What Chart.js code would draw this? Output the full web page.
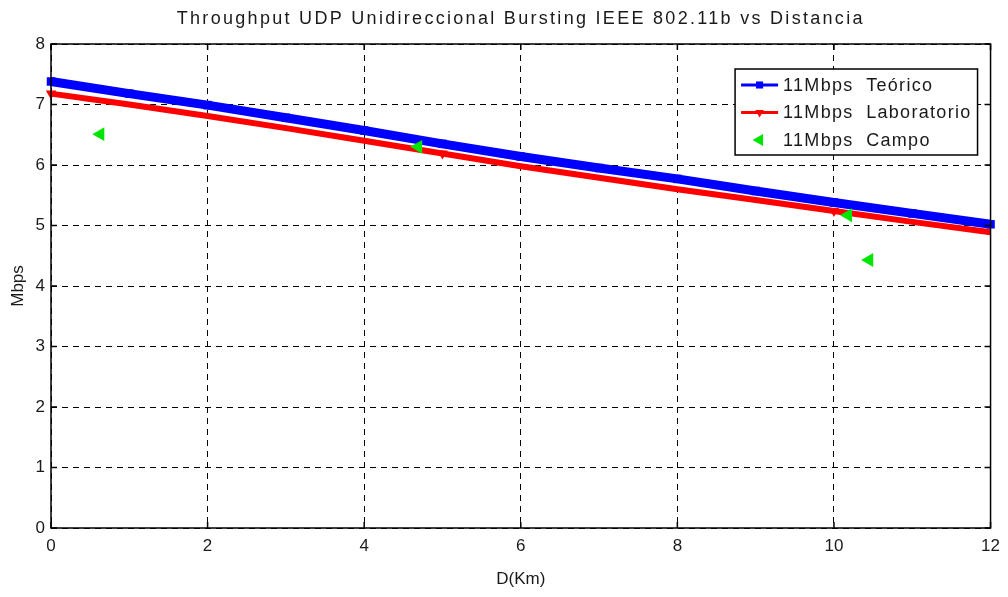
<!DOCTYPE html>
<html lang="es">
<head>
<meta charset="utf-8">
<title>Throughput UDP vs Distancia</title>
<script src="https://cdn.jsdelivr.net/npm/chart.js@4.4.1/dist/chart.umd.min.js"></script>
<style>
  html, body { margin: 0; padding: 0; background: #fff; }
  #contenedor { width: 1008px; height: 597px; }
</style>
</head>
<body>
<div id="contenedor"><canvas id="grafico"></canvas></div>
<script>
// Distancia (km) y throughput (Mbps)
const distancia   = [0, 1, 2, 3, 4, 5, 6, 7, 8, 9, 10, 11, 12];
const teorico     = [7.38, 7.18, 6.99, 6.78, 6.57, 6.35, 6.14, 5.95, 5.77, 5.57, 5.38, 5.20, 5.02];
const laboratorio = [7.18, 7.00, 6.81, 6.61, 6.40, 6.19, 5.98, 5.79, 5.60, 5.42, 5.24, 5.06, 4.89];
const marcasLab   = [0, 5, 10];   // puntos medidos en laboratorio

// Mediciones de campo
const campoDist = [0.63, 4.69, 10.18, 10.45];
const campoMbps = [6.51, 6.30, 5.17, 4.43];

const ticksX = [0, 2, 4, 6, 8, 10, 12];
const ticksY = [0, 1, 2, 3, 4, 5, 6, 7, 8];

const titulo = 'Throughput UDP Unidireccional Bursting IEEE 802.11b vs Distancia';
const fuente = '"Liberation Sans", Arial, Helvetica, sans-serif';
const colorTexto = '#1a1a1a';

// marcador simple para la leyenda
function marcador(ctx, estilo, rot, x, y, r, color) {
  ctx.save();
  ctx.fillStyle = color;
  ctx.translate(x, y);
  ctx.rotate((rot || 0) * Math.PI / 180);
  ctx.beginPath();
  if (estilo === 'rect') {
    const s = r * Math.SQRT1_2;
    ctx.rect(-s, -s, 2 * s, 2 * s);
  } else {
    ctx.moveTo(0, -r);
    ctx.lineTo(r * 0.866, r / 2);
    ctx.lineTo(-r * 0.866, r / 2);
    ctx.closePath();
  }
  ctx.fill();
  ctx.restore();
}

// Título con espaciado ancho
const tituloPlugin = {
  id: 'tituloPlugin',
  afterDraw(chart) {
    const { ctx, chartArea: a } = chart;
    ctx.save();
    ctx.font = '18px ' + fuente;
    const w0 = ctx.measureText(titulo).width;
    const esp = (688 - w0) / titulo.length;
    ctx.letterSpacing = esp + 'px';
    const w = ctx.measureText(titulo).width;
    ctx.fillStyle = colorTexto;
    ctx.textAlign = 'left';
    ctx.textBaseline = 'middle';
    ctx.fillText(titulo, (a.left + a.right) / 2 - w / 2, 19);
    ctx.restore();
  }
};

// Marco de los ejes con marcas hacia dentro
const marco = {
  id: 'marco',
  afterDatasetsDraw(chart) {
    const { ctx, chartArea: a, scales: { x, y } } = chart;
    ctx.save();
    ctx.strokeStyle = '#000';
    ctx.lineWidth = 1.5;
    ctx.setLineDash([]);
    ctx.strokeRect(a.left, a.top, a.width, a.height);
    ctx.beginPath();
    x.ticks.forEach(t => {
      const px = x.getPixelForValue(t.value);
      ctx.moveTo(px, a.bottom); ctx.lineTo(px, a.bottom - 6);
      ctx.moveTo(px, a.top); ctx.lineTo(px, a.top + 6);
    });
    y.ticks.forEach(t => {
      const py = y.getPixelForValue(t.value);
      ctx.moveTo(a.left, py); ctx.lineTo(a.left + 6, py);
      ctx.moveTo(a.right, py); ctx.lineTo(a.right - 6, py);
    });
    ctx.stroke();
    ctx.restore();
  }
};

// Leyenda con recuadro dentro del área de datos
const leyenda = {
  id: 'leyenda',
  afterDraw(chart) {
    const { ctx, chartArea: a } = chart;
    const sets = chart.data.datasets;
    ctx.save();
    ctx.font = '18px ' + fuente;
    ctx.letterSpacing = '1.3px';
    const anchoTexto = Math.max(...sets.map(d => ctx.measureText(d.label).width));
    const w = 6 + 37 + 5 + anchoTexto + 6;
    const h = 86;
    const x = a.right - 13 - w;
    const y = a.top + 25;
    ctx.fillStyle = '#fff';
    ctx.fillRect(x, y, w, h);
    ctx.strokeStyle = '#000';
    ctx.lineWidth = 1.5;
    ctx.strokeRect(x, y, w, h);

    sets.forEach((d, i) => {
      const cy = y + 16 + i * 27.5;
      const x0 = x + 6, x1 = x0 + 37, xm = (x0 + x1) / 2;
      if (d.showLine !== false) {
        ctx.strokeStyle = d.borderColor;
        ctx.lineWidth = 3;
        ctx.beginPath();
        ctx.moveTo(x0, cy);
        ctx.lineTo(x1, cy);
        ctx.stroke();
      }
      const r = d.pointStyle === 'rect' ? 5 : (d.showLine === false ? 7 : 5);
      marcador(ctx, d.pointStyle, d.rotation, xm, cy, r, d.pointBackgroundColor);
      ctx.fillStyle = colorTexto;
      ctx.textAlign = 'left';
      ctx.textBaseline = 'middle';
      ctx.fillText(d.label, x1 + 5, cy + 1);
    });
    ctx.restore();
  }
};

const ctx = document.getElementById('grafico').getContext('2d');
new Chart(ctx, {
  type: 'line',
  data: {
    datasets: [
      {
        label: '11Mbps  Teórico',
        data: distancia.map((d, i) => ({ x: d, y: teorico[i] })),
        borderColor: '#0000ff',
        pointBackgroundColor: '#0000ff',
        borderWidth: 9,
        pointStyle: 'rect',
        pointRadius: 6,
        pointBorderWidth: 0,
        clip: false,
        order: 3
      },
      {
        label: '11Mbps  Laboratorio',
        data: distancia.map((d, i) => ({ x: d, y: laboratorio[i] })),
        borderColor: '#ff0000',
        pointBackgroundColor: '#ff0000',
        borderWidth: 6,
        pointStyle: 'triangle',
        rotation: 180,
        pointRadius: distancia.map(d => marcasLab.includes(d) ? 6 : 0),
        pointBorderWidth: 0,
        clip: false,
        order: 2
      },
      {
        label: '11Mbps  Campo',
        data: campoDist.map((d, i) => ({ x: d, y: campoMbps[i] })),
        borderColor: '#00e600',
        pointBackgroundColor: '#00e600',
        showLine: false,
        pointStyle: 'triangle',
        rotation: -90,
        pointRadius: 8,
        pointBorderWidth: 0,
        clip: false,
        order: 1
      }
    ]
  },
  options: {
    responsive: true,
    maintainAspectRatio: false,
    animation: false,
    layout: { padding: { top: 44, right: 17, left: 0, bottom: 0 } },
    plugins: {
      legend: { display: false },
      tooltip: { enabled: false }
    },
    scales: {
      x: {
        type: 'linear',
        min: 0, max: 12,
        afterBuildTicks: s => { s.ticks = ticksX.map(v => ({ value: v })); },
        afterFit: s => { s.height = 69; },
        grid: { color: '#000', lineWidth: 1, drawTicks: false },
        border: { display: false, dash: [6, 5] },
        ticks: { color: colorTexto, font: { family: fuente, size: 17 }, padding: 8 },
        title: { display: true, text: 'D(Km)', color: colorTexto, font: { family: fuente, size: 17 }, padding: { bottom: 7 } }
      },
      y: {
        min: 0, max: 8,
        afterBuildTicks: s => { s.ticks = ticksY.map(v => ({ value: v })); },
        afterFit: s => { s.width = 51; },
        grid: { color: '#000', lineWidth: 1, drawTicks: false },
        border: { display: false, dash: [6, 5] },
        ticks: { color: colorTexto, font: { family: fuente, size: 17 }, padding: 6 },
        title: { display: true, text: 'Mbps', color: colorTexto, font: { family: fuente, size: 17 }, padding: { top: 8 } }
      }
    }
  },
  plugins: [marco, leyenda, tituloPlugin]
});
</script>
</body>
</html>
